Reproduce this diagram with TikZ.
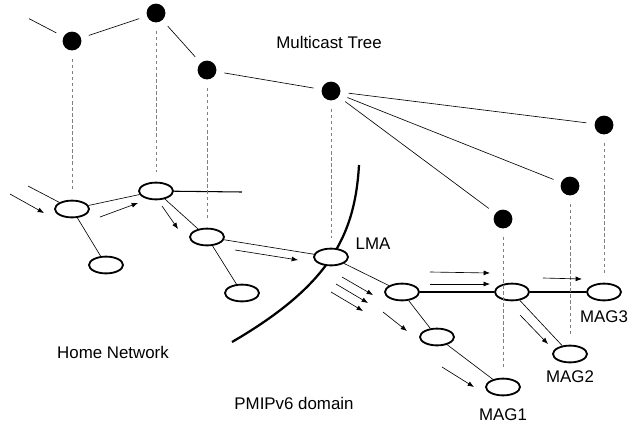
\documentclass[tikz,border=0pt]{standalone}
\usepackage{fontspec}
\setmainfont{Liberation Sans}
\usetikzlibrary{arrows.meta, positioning, shapes.geometric}
\definecolor{dashgray}{RGB}{128,128,128}
\tikzset{
  mcast/.style={circle, fill=black, minimum size=0.47cm, inner sep=0pt},
  router/.style={ellipse, draw, line width=1.3pt, fill=white,
                 minimum width=0.85cm, minimum height=0.42cm, inner sep=0pt},
  treelink/.style={line width=0.45pt, shorten <=0.2cm, shorten >=0.2cm},
  link/.style={line width=0.45pt},
  trunk/.style={line width=0.75pt},
  proj/.style={draw=dashgray, dash pattern=on 2.5pt off 1.8pt, line width=0.5pt,
               shorten <=0.2cm, shorten >=0.25cm},
  flow/.style={-{Latex[length=4.5pt, width=3.5pt]}, line width=0.45pt},
  lbl/.style={font=\fontsize{12}{14}\selectfont, inner sep=0pt},
}
\begin{document}
\begin{tikzpicture}[x=0.025cm, y=-0.025cm]
\useasboundingbox (0,0) rectangle (640,423);
% domain border
\draw[line width=1.6pt] (232,342) .. controls (330,285) and (355,235) .. (359,165);
% multicast tree
\coordinate (tin) at (22,15);
\node[mcast] (d1) at (72,41) {};
\node[mcast] (d2) at (156,13) {};
\node[mcast] (d3) at (207,70) {};
\node[mcast] (d4) at (331,91) {};
\node[mcast] (d5) at (604,125) {};
\node[mcast] (d6) at (570,186) {};
\node[mcast] (d7) at (503,219) {};
\foreach \a/\b in {tin/d1, d1/d2, d2/d3, d3/d4, d4/d5, d4/d6, d4/d7}
  \draw[treelink] (\a) -- (\b);
% routers
\coordinate (hin) at (28,186);
\coordinate (hout) at (242,192);
\node[router] (e1) at (72,209) {};
\node[router] (e2) at (156,191) {};
\node[router] (e3) at (207,237) {};
\node[router] (e4) at (106,265) {};
\node[router] (e5) at (242,293) {};
\node[router] (lma) at (331,257) {};
\node[router] (e7) at (402,292) {};
\node[router] (e8) at (437,337) {};
\node[router] (e10) at (512,292) {};
\node[router] (mag1) at (503,387) {};
\node[router] (mag2) at (570,354) {};
\node[router] (mag3) at (604,292) {};
\foreach \a/\b in {hin/e1, e1/e2, e1/e4, e2/e3, e3/e5, e3/lma, lma/e7, e7/e8, e8/mag1, e10/mag2}
  \draw[link] (\a) -- (\b);
\draw[trunk] (e2) -- (hout);
\draw[trunk] (e7) -- (e10);
\draw[trunk] (e10) -- (mag3);
% projections
\foreach \a/\b in {d1/e1, d2/e2, d3/e3, d4/lma, d5/mag3, d6/mag2, d7/mag1}
  \draw[proj] (\a) -- (\b);
% traffic
\foreach \xa/\ya/\xb/\yb in {10/194/44/213, 100/217/138/203, 162/206/178/229,
    235/250/298/260, 342/277/373/295, 336/284/368/303, 331/292/363/311,
    383/312/407/331, 442/367/474/387, 430/272/490/273, 430/284/490/284,
    520/315/548/344, 543/278/582/279}
  \draw[flow] (\xa,\ya) -- (\xb,\yb);
% labels
\node[lbl] (ttree) at (329,42) {Multicast Tree};
\node[lbl] (tlma) at (373,244) {LMA};
\node[lbl] (thome) at (113,352) {Home Network};
\node[lbl] (tdom) at (294,403) {PMIPv6 domain};
\node[lbl, below=0.31cm of mag1] (tmag1) {MAG1};
\node[lbl, below=0.17cm of mag2] (tmag2) {MAG2};
\node[lbl, below=0.24cm of mag3] (tmag3) {MAG3};
\end{tikzpicture}
\end{document}
